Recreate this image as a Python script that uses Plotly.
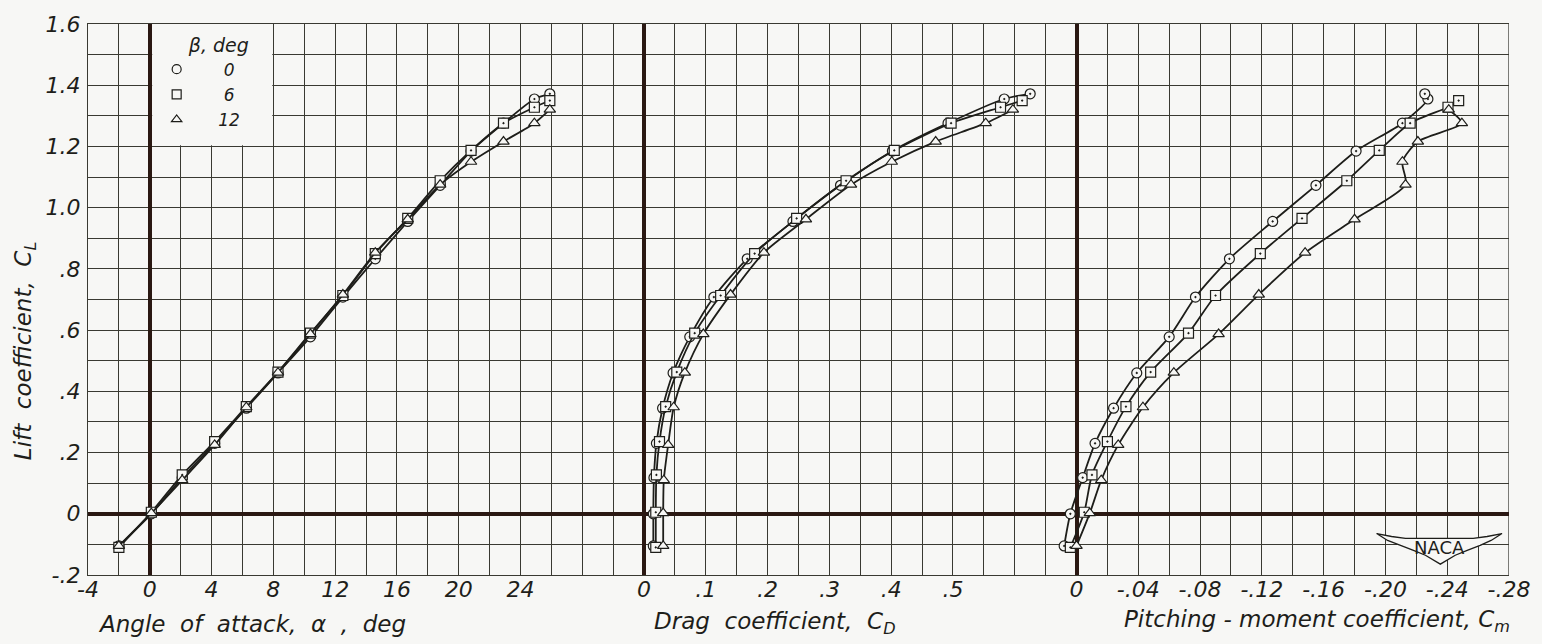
import plotly.graph_objects as go

# ---------------- data ----------------
alpha = [-2.0, 0.1, 2.1, 4.2, 6.25, 8.3, 10.4, 12.5, 14.6, 16.7, 18.8, 20.8, 22.9, 24.9, 25.9]

CL_b0 = [-0.105, 0.0, 0.118, 0.23, 0.345, 0.46, 0.578, 0.708, 0.833, 0.955, 1.073, 1.185, 1.276, 1.355, 1.372]
CL_b6 = [-0.11, 0.005, 0.127, 0.236, 0.35, 0.463, 0.59, 0.713, 0.85, 0.965, 1.088, 1.187, 1.276, 1.328, 1.35]
CL_b12 = [-0.105, 0.002, 0.11, 0.225, 0.348, 0.461, 0.587, 0.716, 0.853, 0.962, 1.075, 1.15, 1.216, 1.276, 1.32]

CD_b0 = [0.015, 0.015, 0.016, 0.020, 0.030, 0.047, 0.074, 0.113, 0.167, 0.241, 0.318, 0.402, 0.492, 0.583, 0.625]
CD_b6 = [0.019, 0.019, 0.020, 0.025, 0.035, 0.053, 0.082, 0.124, 0.179, 0.247, 0.327, 0.405, 0.497, 0.577, 0.612]
CD_b12 = [0.031, 0.031, 0.032, 0.039, 0.048, 0.066, 0.096, 0.140, 0.194, 0.262, 0.335, 0.401, 0.472, 0.553, 0.597]

Cm_b0 = [0.008, 0.004, -0.004, -0.012, -0.024, -0.039, -0.060, -0.077, -0.099, -0.127, -0.155, -0.181, -0.211, -0.2275, -0.2255]
Cm_b6 = [0.004, -0.005, -0.010, -0.020, -0.032, -0.048, -0.0725, -0.090, -0.119, -0.146, -0.175, -0.196, -0.216, -0.2405, -0.2474]
Cm_b12 = [0.0, -0.0086, -0.016, -0.027, -0.043, -0.063, -0.092, -0.118, -0.148, -0.180, -0.213, -0.211, -0.221, -0.2495, -0.241]

beta_labels = ["0", "6", "12"]

alpha_tickvals = [-4, 0, 4, 8, 12, 16, 20, 24]
alpha_ticktext = ["-4", "0", "4", "8", "12", "16", "20", "24"]
cd_tickvals = [0, 0.1, 0.2, 0.3, 0.4, 0.5]
cd_ticktext = ["0", ".1", ".2", ".3", ".4", ".5"]
cm_tickvals = [0, -0.04, -0.08, -0.12, -0.16, -0.20, -0.24, -0.28]
cm_ticktext = ["0", "-.04", "-.08", "-.12", "-.16", "-.20", "-.24", "-.28"]
cl_tickvals = [-0.2, 0, 0.2, 0.4, 0.6, 0.8, 1.0, 1.2, 1.4, 1.6]
cl_ticktext = ["-.2", "0", ".2", ".4", ".6", ".8", "1.0", "1.2", "1.4", "1.6"]

# ---------------- styling ----------------
BG = "#f7f7f5"
INK = "#1e1e1a"
GRID = "#3a3a32"
THICK = "#2a1812"
FONT = "DejaVu Sans"
SP2 = "\u00a0\u00a0"

W, H = 1542, 644
ML, MR, MT, MB = 88, 26, 17, 69
PW = W - ML - MR
PH = H - MT - MB
N = 46  # grid columns across the whole sheet


def px(x, y):
    return ((x - ML) / PW, (H - MB - y) / PH)


CL = [CL_b0, CL_b6, CL_b12]
CD = [CD_b0, CD_b6, CD_b12]
CM = [Cm_b0, Cm_b6, Cm_b12]
symbols = ["circle-dot", "square-dot", "triangle-up"]
leg_symbols = ["circle-open", "square-open", "triangle-up-open"]
pads = ["\u00a0" * 5, "\u00a0" * 5, "\u00a0" * 4]

fig = go.Figure()

for i in range(3):
    common = dict(
        mode="lines+markers",
        line=dict(color=INK, width=1.8, shape="spline", smoothing=0.7),
        marker=dict(symbol=symbols[i], size=10, color=BG, line=dict(color=INK, width=1.2)),
        showlegend=False,
        hoverinfo="skip",
        cliponaxis=False,
    )
    fig.add_trace(go.Scatter(x=alpha, y=CL[i], xaxis="x", yaxis="y", **common))
    fig.add_trace(go.Scatter(x=CD[i], y=CL[i], xaxis="x2", yaxis="y", **common))
    fig.add_trace(go.Scatter(x=CM[i], y=CL[i], xaxis="x3", yaxis="y", **common))

for i in range(3):
    fig.add_trace(go.Scatter(
        x=[None], y=[None], mode="markers", name=pads[i] + beta_labels[i],
        marker=dict(symbol=leg_symbols[i], size=9, color=INK, line=dict(color=INK, width=1.2)),
        xaxis="x", yaxis="y", showlegend=True,
    ))

grid_common = dict(
    showgrid=True, gridcolor=GRID, gridwidth=1.3,
    zeroline=True, zerolinecolor=THICK, zerolinewidth=4,
    showline=True, linecolor=GRID, linewidth=1.3, mirror=True,
    ticks="", ticklabelstandoff=-6,
    tickfont=dict(family=FONT, size=22, color=INK, style="italic"),
    fixedrange=True,
)
minor_common = dict(showgrid=True, gridcolor=GRID, gridwidth=1.3)

fig.update_layout(
    width=W, height=H,
    margin=dict(l=ML, r=MR, t=MT, b=MB, pad=0),
    paper_bgcolor=BG, plot_bgcolor="rgba(0,0,0,0)",
    font=dict(family=FONT, size=22, color=INK, style="italic"),
    xaxis=dict(domain=[0, 18 / N], range=[-4, 32], anchor="y",
               tickmode="array", tickvals=alpha_tickvals, ticktext=alpha_ticktext,
               minor=dict(dtick=2, tick0=0, **minor_common), **grid_common),
    xaxis2=dict(domain=[17 / N, 32 / N], range=[-0.05, 0.7], anchor="y",
                tickmode="array", tickvals=cd_tickvals, ticktext=cd_ticktext,
                minor=dict(dtick=0.05, tick0=0, **minor_common), **grid_common),
    xaxis3=dict(domain=[31 / N, 1], range=[0.02, -0.28], anchor="y",
                tickmode="array", tickvals=cm_tickvals, ticktext=cm_ticktext,
                minor=dict(dtick=0.02, tick0=0, **minor_common), **grid_common),
    yaxis=dict(domain=[0, 1], range=[-0.2, 1.6], anchor="x",
               tickmode="array", tickvals=cl_tickvals, ticktext=cl_ticktext,
               minor=dict(dtick=0.1, tick0=0, **minor_common),
               **{**grid_common, "ticklabelstandoff": 2}),
    legend=dict(
        x=px(157, 0)[0], y=1 - 3 / PH, xanchor="left", yanchor="top",
        bgcolor="rgba(0,0,0,0)", borderwidth=0,
        font=dict(family=FONT, size=17, color=INK, style="italic"),
        title=dict(text="\u00a0" * 5 + "β, deg",
                   font=dict(family=FONT, size=19, color=INK, style="italic")),
        itemwidth=30, tracegroupgap=0,
    ),
    showlegend=True,
)

# right-hand frame line of the sheet
fig.add_shape(type="line", xref="x3", yref="paper", x0=-0.28, x1=-0.28, y0=0, y1=1,
              line=dict(color=GRID, width=1.3), layer="between")

# white box behind the legend (hides the grid there)
fig.add_shape(type="rect", xref="x", yref="y", x0=0.16, x1=7.93, y0=1.204, y1=1.6,
              fillcolor=BG, line=dict(width=0), layer="between")

# axis titles
titles = [
    ("Angle" + SP2 + "of" + SP2 + "attack," + SP2 + "α" + SP2 + "," + SP2 + "deg", 253, 625),
    ("Drag" + SP2 + "coefficient," + SP2 + "C<sub>D</sub>", 778, 624),
    ("Pitching - moment coefficient, C<sub>m</sub>", 1323, 622),
]
for t, xx, yy in titles:
    xp, yp = px(xx, yy)
    fig.add_annotation(text=t, x=xp, y=yp, xref="paper", yref="paper",
                       showarrow=False, xanchor="center", yanchor="middle",
                       font=dict(family=FONT, size=23, color=INK, style="italic"))
xp, yp = px(25, 348)
fig.add_annotation(text="Lift" + SP2 + "coefficient," + SP2 + "C<sub>L</sub>", x=xp, y=yp,
                   xref="paper", yref="paper",
                   showarrow=False, textangle=-90, xanchor="center", yanchor="middle",
                   font=dict(family=FONT, size=23, color=INK, style="italic"))

# NACA emblem
wing = [(1383, 533), (1398, 536), (1412, 538), (1446, 538), (1480, 538), (1494, 536), (1509, 533),
        (1498, 540), (1487, 545), (1474, 550), (1462, 555), (1447, 564), (1432, 555),
        (1420, 550), (1407, 545), (1394, 540)]
path = "M " + " L ".join(f"{px(a, b)[0]:.5f},{px(a, b)[1]:.5f}" for a, b in wing) + " Z"
fig.add_shape(type="path", xref="paper", yref="paper", path=path,
              fillcolor=BG, line=dict(color=INK, width=1.3), layer="above")
xp, yp = px(1446, 547)
fig.add_annotation(text="NACA", x=xp, y=yp, xref="paper", yref="paper", showarrow=False,
                   xanchor="center", yanchor="middle",
                   font=dict(family="DejaVu Sans", size=18, color=INK, style="normal"))

fig.write_html("out.html")
